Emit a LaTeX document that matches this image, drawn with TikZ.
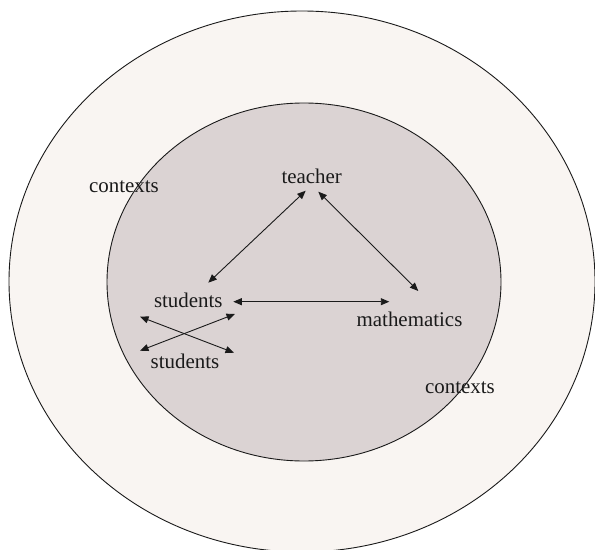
\documentclass[tikz,border=0pt]{standalone}
\usepackage{fontspec}
\setmainfont{Liberation Serif}
\usetikzlibrary{arrows.meta}
\definecolor{outerfill}{HTML}{F9F5F2}
\definecolor{innerfill}{HTML}{DBD3D3}
\definecolor{ink}{HTML}{1A1A1A}
\begin{document}
\begin{tikzpicture}[x=1bp,y=-1bp,
  lbl/.style={inner sep=0pt,anchor=base,font=\fontsize{21}{25}\selectfont,text=ink},
  arr/.style={draw=ink,line width=0.9bp,{Triangle[length=8.5bp,width=7bp]}-{Triangle[length=8.5bp,width=7bp]}},
  ring/.style={draw=ink,line width=0.9bp}]
\useasboundingbox (0,0) rectangle (595,550);
\draw[ring,fill=outerfill] (302,281.5) ellipse [x radius=293, y radius=270.5];
\draw[ring,fill=innerfill] (304,282) ellipse [x radius=197, y radius=179];
\node[lbl] (ctx1) at (124,193) {contexts};
\node[lbl] (ctx2) at (460,393) {contexts};
\node[lbl] (teacher) at (311.7,184) {teacher};
\node[lbl] (stud) at (188.3,307.3) {students};
\node[lbl] (stud2) at (185,368.7) {students};
\node[lbl] (math) at (409.5,326) {mathematics};
\draw[arr] ([shift={(-6,6.7)}]teacher.base) -- ([shift={(20,-24.6)}]stud.base);
\draw[arr] ([shift={(6.6,7.7)}]teacher.base) -- ([shift={(8.8,-35)}]math.base);
\draw[arr] ([shift={(45,-5.6)}]stud.base) -- ([shift={(-20.2,-24.3)}]math.base);
\draw[arr] ([shift={(-48.3,9.4)}]stud.base) -- ([shift={(49,-16)}]stud2.base);
\draw[arr] ([shift={(-45,-18)}]stud2.base) -- ([shift={(46.7,6.7)}]stud.base);
\end{tikzpicture}
\end{document}
